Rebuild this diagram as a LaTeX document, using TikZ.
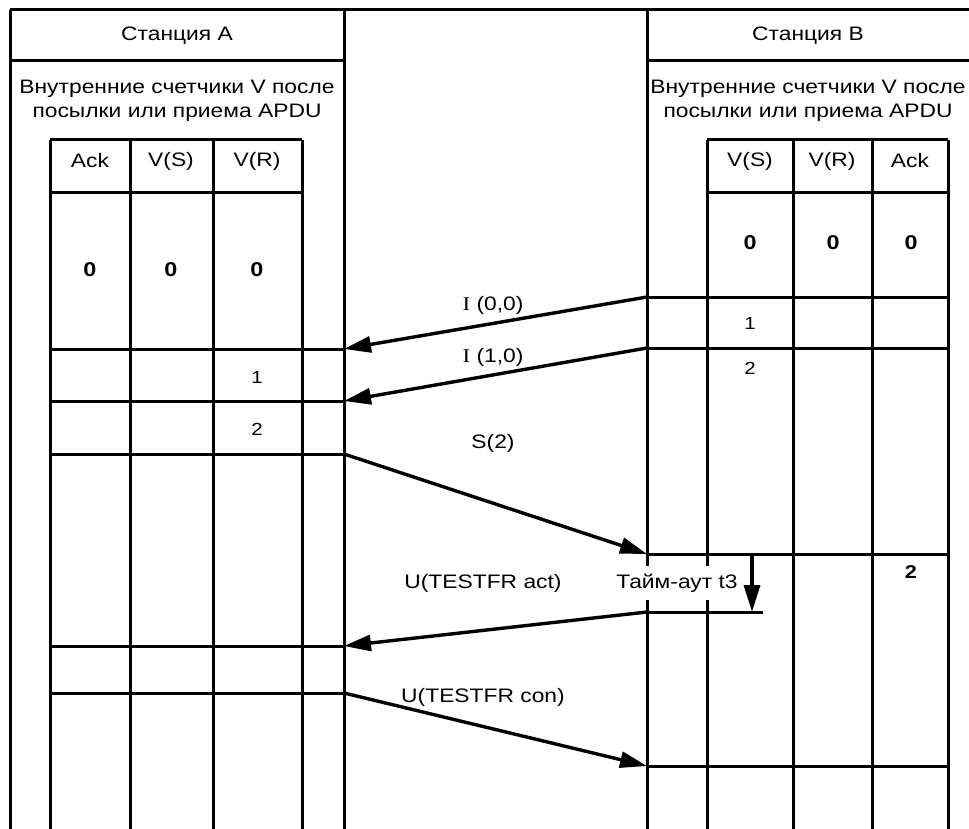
\documentclass[tikz,border=0pt]{standalone}
\usepackage{fontspec}
\setmainfont[FakeStretch=1.17]{Liberation Sans}
\newfontfamily\serifI[FakeStretch=1.17]{Liberation Serif}
\usetikzlibrary{arrows.meta}

\begin{document}
\begin{tikzpicture}[x=1pt,y=-1pt,line width=3pt]
    \tikzstyle{every node}+=[inner sep=0pt, font=\fontsize{19.5}{24}\selectfont]
    \tikzstyle{msg}=[-{Triangle[length=27pt,width=16pt]}, line width=3.4pt]
    \tikzstyle{cnt}=[font=\fontsize{17.5}{20}\selectfont]
    \tikzstyle{zero}=[font=\fontsize{20}{24}\selectfont\bfseries]
    \useasboundingbox (0,0) rectangle (969,829);
    % frame and station columns
    \draw (10,10) -- (969,10);
    \draw (10,61) -- (344,61);
    \draw (647,61) -- (969,61);
    \draw (10,10) -- (10,829);
    \draw (344,10) -- (344,829);
    \draw (647,10) -- (647,829);
    \node (stA) at (177,36) {Станция A};
    \node (stB) at (808,36) {Станция B};
    \node[align=center] (hdA) at (177,101) {Внутренние счетчики V после\\посылки или приема APDU};
    \node[align=center] (hdB) at (808,101) {Внутренние счетчики V после\\посылки или приема APDU};
    % table of station A
    \foreach \x in {50,130,213,302}
        \draw (\x,140) -- (\x,829);
    \draw (50,140) -- (302,140);
    \draw (50,193) -- (302,193);
    \foreach \y in {349,401,454,646,693}
        \draw (50,\y) -- (344,\y);
    \node (aAck) at (90,161) {Ack};
    \node (aVS) at (171,161) {V(S)};
    \node (aVR) at (257,161) {V(R)};
    \node[zero] (aAck0) at (90,270) {0};
    \node[zero] (aVS0) at (171,270) {0};
    \node[zero] (aVR0) at (257,270) {0};
    \node[cnt] (aVR1) at (257,377) {1};
    \node[cnt] (aVR2) at (257,429) {2};
    % table of station B
    \foreach \x in {707,793,872,948}
        \draw (\x,140) -- (\x,829);
    \draw (707,140) -- (948,140);
    \draw (707,193) -- (948,193);
    \foreach \y in {297,348,554,766}
        \draw (647,\y) -- (948,\y);
    \draw (647,612) -- (763,612);
    \node (bVS) at (750,161) {V(S)};
    \node (bVR) at (832,161) {V(R)};
    \node (bAck) at (910,161) {Ack};
    \node[zero] (bVS0) at (750,243) {0};
    \node[zero] (bVR0) at (833,243) {0};
    \node[zero] (bAck0) at (911,243) {0};
    \node[cnt] (bVS1) at (750,323) {1};
    \node[cnt] (bVS2) at (750,368) {2};
    \node[cnt,font=\fontsize{18.5}{20}\selectfont\bfseries] (bAck2) at (911,572) {2};
    % message end points
    \coordinate (b1) at (647,297);
    \coordinate (a1) at (344,349);
    \coordinate (b2) at (647,348);
    \coordinate (a2) at (344,401);
    \coordinate (a3) at (344,454);
    \coordinate (b3) at (647,554);
    \coordinate (b4) at (647,612);
    \coordinate (a4) at (344,646);
    \coordinate (a5) at (344,693);
    \coordinate (b5) at (647,766);
    \coordinate (t0) at (752,554);
    \coordinate (t1) at (752,612);
    % messages
    \draw[msg] (b1) -- (a1);
    \node (lI00) at (493,305) {{\serifI I} (0,0)};
    \draw[msg] (b2) -- (a2);
    \node (lI10) at (493,357) {{\serifI I} (1,0)};
    \draw[msg] (a3) -- (b3);
    \node (lS) at (493,443) {S(2)};
    \draw[msg] (b4) -- (a4);
    \node (lUact) at (483,583) {U(TESTFR act)};
    \draw[msg] (a5) -- (b5);
    \node (lUcon) at (483,697) {U(TESTFR con)};
    % timeout t3
    \node[fill=white, inner xsep=1pt, inner ysep=8pt] (tout) at (677,583) {Тайм-аут t3};
    \draw[msg] (t0) -- (t1);
\end{tikzpicture}
\end{document}
